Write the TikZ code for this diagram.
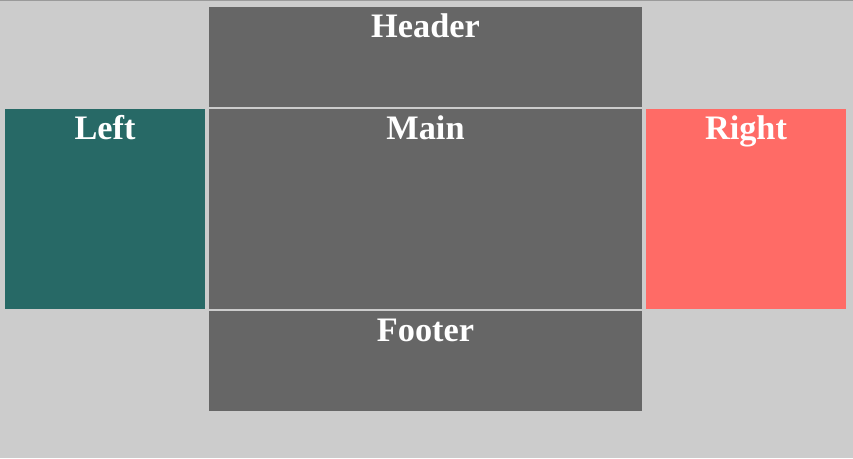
\documentclass[tikz,border=0pt]{standalone}
\usepackage{fontspec}
\setmainfont{Liberation Serif}
\definecolor{bg}{HTML}{CCCCCC}
\definecolor{boxgray}{HTML}{666666}
\definecolor{teal}{HTML}{276966}
\definecolor{coral}{HTML}{FF6B66}
\definecolor{topline}{HTML}{9A9A9A}
\begin{document}
\begin{tikzpicture}[x=1pt,y=-1pt,
  area/.style={inner sep=0pt, outer sep=0pt, draw=none},
  lbl/.style={anchor=base, text=white, font=\fontsize{34.3}{38}\selectfont\bfseries, inner sep=0pt}]
\fill[bg] (0,0) rectangle (853,458);
\useasboundingbox (0,0) rectangle (853,458);
\fill[topline] (0,0) rectangle (853,1);
% boxes
\node[area, fill=boxgray, minimum width=433pt, minimum height=100pt, anchor=north west] (header) at (209,7) {};
\node[area, fill=teal, minimum width=200pt, minimum height=200pt, anchor=north west] (left) at (5,109) {};
\node[area, fill=boxgray, minimum width=433pt, minimum height=200pt, anchor=north west] (main) at (209,109) {};
\node[area, fill=coral, minimum width=200pt, minimum height=200pt, anchor=north west] (right) at (646,109) {};
\node[area, fill=boxgray, minimum width=433pt, minimum height=100pt, anchor=north west] (footer) at (209,311) {};
% labels
\node[lbl] (tH) at ([yshift=-30pt]header.north) {Header};
\node[lbl] (tL) at ([yshift=-30pt]left.north) {Left};
\node[lbl] (tM) at ([yshift=-30pt]main.north) {Main};
\node[lbl] (tR) at ([yshift=-30pt]right.north) {Right};
\node[lbl] (tF) at ([yshift=-30pt]footer.north) {Footer};
\end{tikzpicture}
\end{document}
